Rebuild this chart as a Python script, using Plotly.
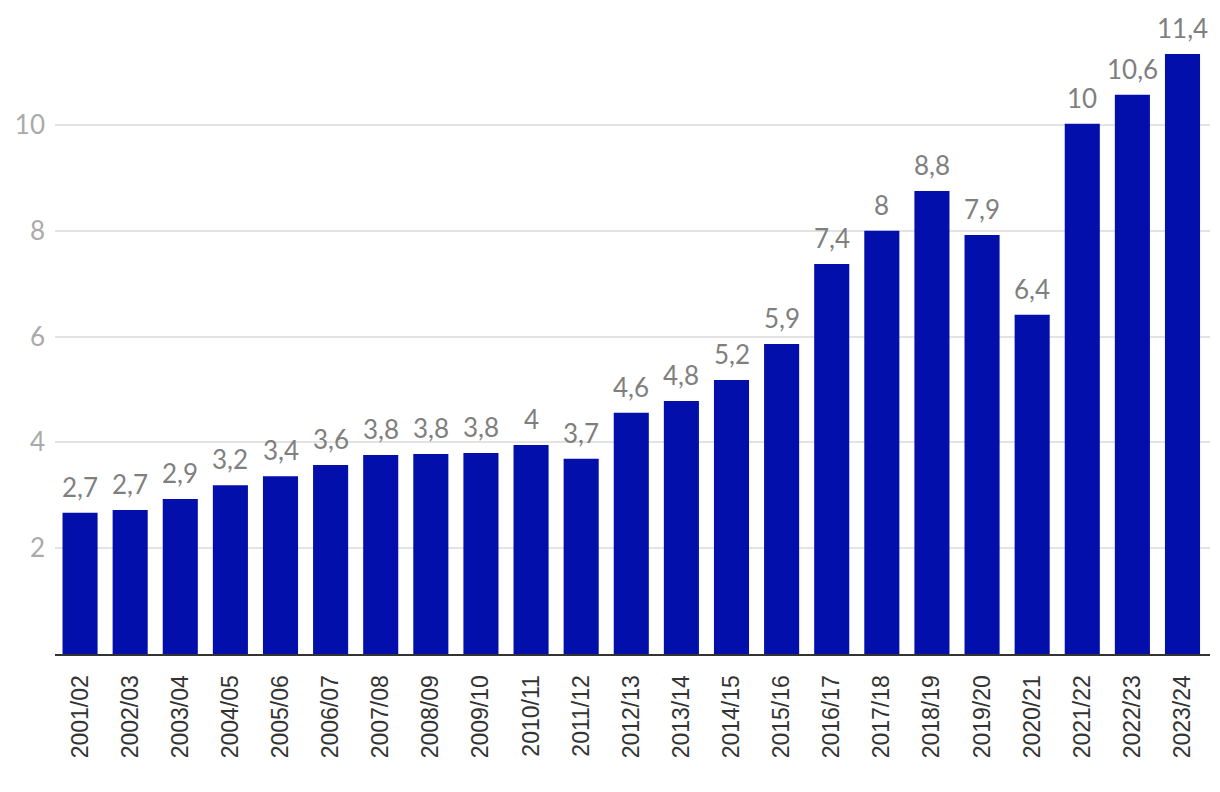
import plotly.graph_objects as go

categories = ["2001/02","2002/03","2003/04","2004/05","2005/06","2006/07","2007/08","2008/09",
              "2009/10","2010/11","2011/12","2012/13","2013/14","2014/15","2015/16","2016/17",
              "2017/18","2018/19","2019/20","2020/21","2021/22","2022/23","2023/24"]
values = [2.67,2.72,2.93,3.19,3.36,3.57,3.76,3.78,3.80,3.95,3.69,4.56,4.78,5.18,5.86,7.37,
          8.00,8.75,7.92,6.41,10.02,10.57,11.34]
labels = ["2,7","2,7","2,9","3,2","3,4","3,6","3,8","3,8","3,8","4","3,7","4,6","4,8","5,2",
          "5,9","7,4","8","8,8","7,9","6,4","10","10,6","11,4"]
y_ticks = [2, 4, 6, 8, 10]

fig = go.Figure(go.Bar(
    x=categories, y=values,
    marker=dict(color="#030FAA", line=dict(width=0)),
    cliponaxis=False,
))
for c, v, t in zip(categories, values, labels):
    fig.add_annotation(x=c, y=v, text=t, showarrow=False, yanchor="bottom",
                       yshift=8, font=dict(family="Lato", size=26, color="#7f7f7f"))
fig.update_layout(
    width=1204, height=776,
    margin=dict(l=47, r=2, t=11, b=130),
    plot_bgcolor="white", paper_bgcolor="white",
    bargap=0.3, showlegend=False,
    xaxis=dict(tickangle=-90, automargin=False,
               tickfont=dict(family="Liberation Sans, Arial", size=23, color="#333333"),
               showline=True, linecolor="#333333", linewidth=2, ticks="", showgrid=False,
               ticklabelstandoff=10),
    yaxis=dict(range=[0, 12], tickvals=y_ticks, ticktext=[str(t) for t in y_ticks],
               automargin=False,
               tickfont=dict(family="Lato", size=26, color="#aaaaaa"),
               showgrid=True, gridcolor="#e3e3e3", gridwidth=1.5, zeroline=False,
               showline=False, ticks="", ticklabelstandoff=9),
)
fig.write_html("out.html")
